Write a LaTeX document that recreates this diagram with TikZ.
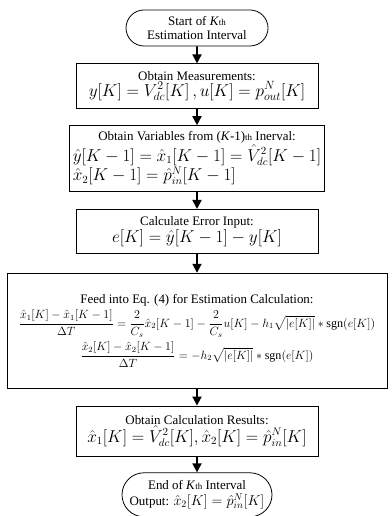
\documentclass[tikz,border=0pt]{standalone}
\usepackage{amsmath,amssymb}
\usepackage{fontspec}
\setmainfont{Liberation Serif}
\usetikzlibrary{arrows.meta,positioning,shapes.misc}
\newcommand{\thsuf}{{\fontsize{9}{9}\selectfont th}}
\newcommand{\eqsize}{\fontsize{16}{19}\selectfont}
\newcommand{\feedsize}{\fontsize{12.1}{15}\selectfont}

\begin{document}
\begin{tikzpicture}[
  x=1bp,y=1bp,
  node distance=17bp,
  every node/.style={font=\fontsize{13}{14.5}\selectfont,align=center},
  terminal/.style={draw,thick,rounded rectangle,minimum width=146bp,minimum height=36bp,inner sep=2bp},
  process/.style={draw,thick,minimum width=242bp,minimum height=45bp,inner sep=3bp},
  arrow/.style={-{Triangle[length=9bp,width=9bp]},line width=1.8bp}
]
\useasboundingbox (0,0) rectangle (391,-516);
\node[terminal] (start) at (197,-28) {Start of \textit{K}\thsuf\\Estimation Interval};
\node[process,below=of start] (meas) {Obtain Measurements:\\{\fontsize{16.8}{19}\selectfont $y[K]=V_{dc}^2[K]\,,u[K]=p_{out}^N[K]$}};
\node[process,below=16bp of meas,minimum width=246bp,minimum height=66bp] (prev) {Obtain Variables from (\textit{K}-1)\thsuf\ Inerval:\\[1bp]
  {\eqsize $\begin{array}{@{}l@{}}\hat{y}[K-1]=\hat{x}_1[K-1]=\hat{V}_{dc}^2[K-1]\\ \hat{x}_2[K-1]=\hat{p}_{in}^N[K-1]\end{array}$}};
\node[process,below=of prev,minimum height=44bp] (err) {Calculate Error Input:\\{\eqsize $e[K]=\hat{y}[K-1]-y[K]$}};
\node[process,below=19bp of err,minimum width=380bp,minimum height=115bp] (feed) {Feed into Eq. (4) for Estimation Calculation:\\[3bp]
  {\feedsize $\displaystyle\frac{\hat{x}_1[K]-\hat{x}_1[K-1]}{\Delta T}=\frac{2}{C_s}\hat{x}_2[K-1]-\frac{2}{C_s}u[K]-h_1\sqrt{|e[K]|}*\mathrm{sgn}(e[K])$}\\[4bp]
  {\feedsize $\displaystyle\frac{\hat{x}_2[K]-\hat{x}_2[K-1]}{\Delta T}=-h_2\sqrt{|e[K]|}*\mathrm{sgn}(e[K])$}};
\node[process,below=of feed,minimum height=50bp] (res) {Obtain Calculation Results:\\{\eqsize $\hat{x}_1[K]=\hat{V}_{dc}^2[K],\hat{x}_2[K]=\hat{p}_{in}^N[K]$}};
\node[terminal,below=16bp of res,minimum width=154bp,minimum height=44bp] (stop) {End of \textit{K}\thsuf\ Interval\\[1bp]Output: {\fontsize{14}{16}\selectfont$\hat{x}_2[K]=\hat{p}_{in}^N[K]$}};
\draw[arrow] (start) -- (meas);
\draw[arrow] (meas) -- (prev);
\draw[arrow] (prev) -- (err);
\draw[arrow] (err) -- (feed);
\draw[arrow] (feed) -- (res);
\draw[arrow] (res) -- (stop);
\end{tikzpicture}
\end{document}
